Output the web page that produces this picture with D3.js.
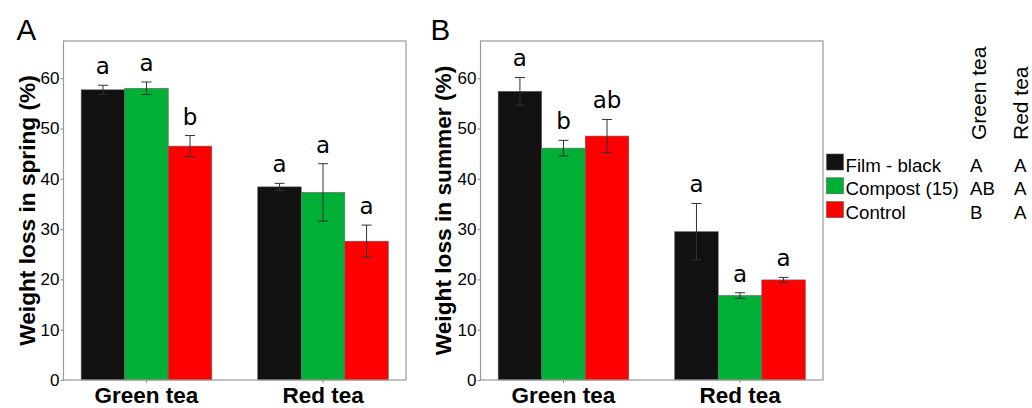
<!DOCTYPE html>
<html>
<head>
<meta charset="utf-8">
<script src="https://cdn.jsdelivr.net/npm/d3@7"></script>
<style>
  body { margin: 0; background: #fff; }
  svg { display: block; }
</style>
</head>
<body>
<svg id="chart" width="1032" height="408"></svg>
<script>
// data
const groups = ["Green tea", "Red tea"];
const treatments = ["Film - black", "Compost (15)", "Control"];
const colours = ["#111111", "#00b036", "#ff0000"];

const springMeans = [[57.7, 58.0, 46.5], [38.4, 37.3, 27.6]];
const springErr = [[0.9, 1.25, 2.1], [0.7, 5.7, 3.2]];
const springLetters = [["a", "a", "b"], ["a", "a", "a"]];

const summerMeans = [[57.4, 46.1, 48.5], [29.5, 16.8, 19.9]];
const summerErr = [[2.75, 1.55, 3.3], [5.6, 0.55, 0.5]];
const summerLetters = [["a", "b", "ab"], ["a", "a", "a"]];

const greenTeaLetters = ["A", "AB", "B"];
const redTeaLetters = ["A", "A", "A"];

const yTicks = [0, 10, 20, 30, 40, 50, 60];
const yMax = 67.4;

const svg = d3.select("#chart");

function drawPanel(cfg) {
  const w = cfg.width, h = cfg.height;
  const g = svg.append("g").attr("transform", `translate(${cfg.left},${cfg.top})`);

  const x0 = d3.scaleBand().domain(groups).range([0, w]).paddingInner(0.26).paddingOuter(0.1);
  const x1 = d3.scaleBand().domain(treatments).range([0, x0.bandwidth()]);
  const y = d3.scaleLinear().domain([0, yMax]).range([h, 0]);

  const rows = [];
  groups.forEach((grp, i) => {
    treatments.forEach((t, j) => {
      rows.push({ grp, t, j, mean: cfg.means[i][j], err: cfg.err[i][j], letter: cfg.letters[i][j] });
    });
  });

  // bars
  g.selectAll(".bar").data(rows).join("rect")
    .attr("class", "bar")
    .attr("x", d => x0(d.grp) + x1(d.t))
    .attr("width", x1.bandwidth())
    .attr("y", d => y(d.mean))
    .attr("height", d => h - y(d.mean))
    .attr("fill", d => colours[d.j])
    .attr("stroke", "#666")
    .attr("stroke-width", 0.6);

  // error bars
  const cx = d => x0(d.grp) + x1(d.t) + x1.bandwidth() / 2;
  const eb = g.selectAll(".err").data(rows).join("g").attr("class", "err")
    .attr("stroke", "#333").attr("stroke-width", 1);
  eb.append("line")
    .attr("x1", cx).attr("x2", cx)
    .attr("y1", d => y(d.mean + d.err)).attr("y2", d => y(d.mean - d.err));
  [1, -1].forEach(s => {
    eb.append("line")
      .attr("x1", d => cx(d) - 5).attr("x2", d => cx(d) + 5)
      .attr("y1", d => y(d.mean + s * d.err)).attr("y2", d => y(d.mean + s * d.err));
  });

  // significance letters
  g.selectAll(".sig").data(rows).join("text")
    .attr("class", "sig")
    .attr("x", cx)
    .attr("y", d => y(d.mean + d.err) - 11)
    .attr("text-anchor", "middle")
    .style("font-family", "DejaVu Sans, sans-serif")
    .style("font-size", "23px")
    .text(d => d.letter);

  // axes
  const yAxis = g.append("g")
    .call(d3.axisLeft(y).tickValues(yTicks).tickSize(3).tickPadding(1));
  yAxis.select(".domain").remove();
  yAxis.selectAll("line").attr("stroke", "#888");
  yAxis.selectAll("text")
    .style("font-family", "Liberation Sans, Arial, sans-serif")
    .style("font-size", "17px").attr("fill", "#000");

  const xAxis = g.append("g").attr("transform", `translate(0,${h})`)
    .call(d3.axisBottom(x0).tickSize(3).tickPadding(6));
  xAxis.select(".domain").remove();
  xAxis.selectAll("line").attr("stroke", "#888");
  xAxis.selectAll("text")
    .attr("dy", "0.62em")
    .style("font-family", "Liberation Sans, Arial, sans-serif")
    .style("font-weight", "bold")
    .style("font-size", "22.5px").attr("fill", "#000");

  // frame
  g.append("rect")
    .attr("x", 0).attr("y", 0).attr("width", w).attr("height", h)
    .attr("fill", "none").attr("stroke", "#999").attr("stroke-width", 1.2);

  // y title
  g.append("text")
    .attr("transform", `translate(${cfg.titleX},${h / 2}) rotate(-90)`)
    .attr("text-anchor", "middle")
    .attr("dy", "0.35em")
    .style("font-family", "Liberation Sans, Arial, sans-serif")
    .style("font-weight", "bold")
    .style("font-size", "22.7px")
    .text(cfg.title);

  // panel letter
  svg.append("text")
    .attr("x", cfg.labelX).attr("y", 40)
    .style("font-family", "Liberation Sans, Arial, sans-serif")
    .style("font-size", "29.5px")
    .text(cfg.label);
}

drawPanel({
  left: 63.5, top: 41, width: 342.5, height: 339,
  means: springMeans, err: springErr, letters: springLetters,
  title: "Weight loss in spring (%)", titleX: -36, label: "A", labelX: 16.5
});

drawPanel({
  left: 480.5, top: 41, width: 342.5, height: 339,
  means: summerMeans, err: summerErr, letters: summerLetters,
  title: "Weight loss in summer (%)", titleX: -37, label: "B", labelX: 430.5
});

// legend
const legend = svg.append("g").attr("transform", "translate(826.5,154)");
const step = 23.8;
const fontLeg = "Liberation Sans, Arial, sans-serif";

legend.selectAll("rect").data(treatments).join("rect")
  .attr("x", 0).attr("y", (d, i) => i * step)
  .attr("width", 17).attr("height", 16)
  .attr("fill", (d, i) => colours[i])
  .attr("stroke", "#555").attr("stroke-width", 0.6);

legend.selectAll(".lab").data(treatments).join("text")
  .attr("class", "lab")
  .attr("x", 19).attr("y", (d, i) => i * step + 17.5)
  .style("font-family", fontLeg).style("font-size", "18.7px")
  .text(d => d);

legend.selectAll(".gl").data(greenTeaLetters).join("text")
  .attr("class", "gl")
  .attr("x", 143.5).attr("y", (d, i) => i * step + 17.5)
  .style("font-family", fontLeg).style("font-size", "18.7px")
  .text(d => d);

legend.selectAll(".rl").data(redTeaLetters).join("text")
  .attr("class", "rl")
  .attr("x", 187.5).attr("y", (d, i) => i * step + 17.5)
  .style("font-family", fontLeg).style("font-size", "18.7px")
  .text(d => d);

// column headers
[["Green tea", 985.5], ["Red tea", 1027.5]].forEach(([t, xPos]) => {
  svg.append("text")
    .attr("transform", `translate(${xPos},140) rotate(-90)`)
    .style("font-family", fontLeg).style("font-size", "21px")
    .text(t);
});
</script>
</body>
</html>
